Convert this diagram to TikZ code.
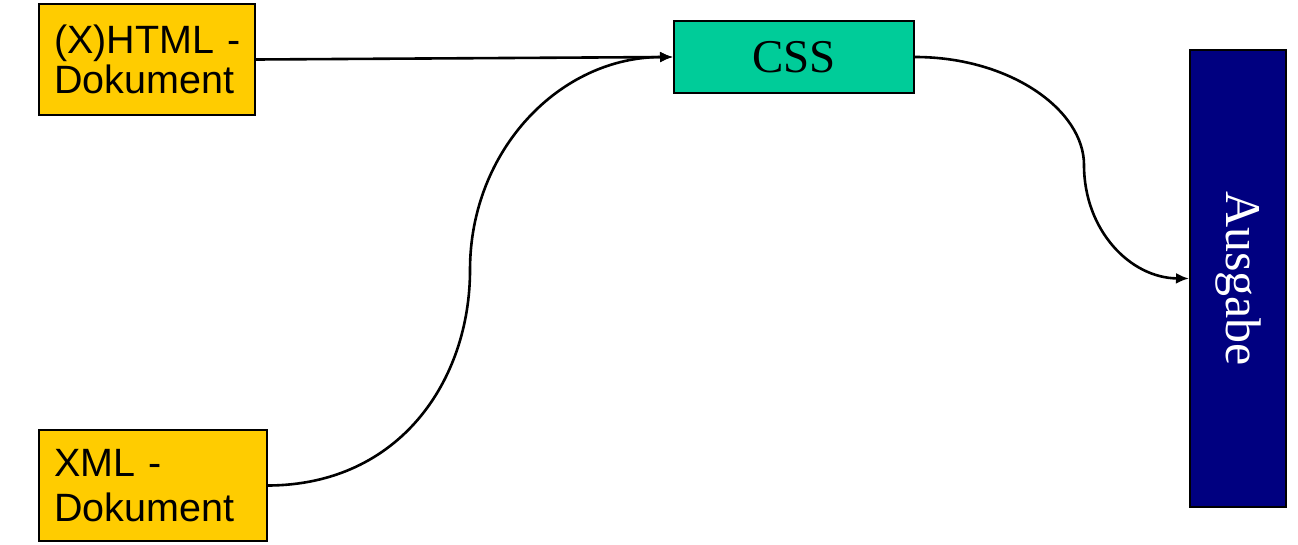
\documentclass[tikz,border=0pt]{standalone}
\usepackage{fontspec}
\setmainfont{Liberation Serif}
\newfontfamily\arialfont{Liberation Sans}
\usetikzlibrary{arrows.meta}
\definecolor{docyellow}{HTML}{FFCC00}
\definecolor{cssgreen}{HTML}{00CC99}
\definecolor{outnavy}{HTML}{000080}
\tikzset{
  docbox/.style={draw=black, line width=2pt, fill=docyellow, align=left,
    inner xsep=15pt, inner ysep=0pt, minimum height=111pt, anchor=north west},
  cssbox/.style={draw=black, line width=2pt, fill=cssgreen, minimum width=240pt,
    minimum height=72pt, inner sep=0pt, font=\fontsize{47}{50}\selectfont},
  outbox/.style={draw=black, line width=2pt, fill=outnavy, minimum width=96pt,
    minimum height=457pt, inner sep=0pt},
  conn/.style={line width=2.6pt, -{Latex[length=13pt,width=11pt]}}
}
\begin{document}
\begin{tikzpicture}[x=1pt,y=-1pt]
\useasboundingbox (0,0) rectangle (1298,544);
\node[docbox, text width=186pt, font=\arialfont\fontsize{39.5}{40}\selectfont] (html) at (38,3) {\mbox{(X)HTML -}\\Dokument};
\node[docbox, text width=198pt, font=\arialfont\fontsize{39.5}{45}\selectfont] (xml) at (38,429) {\mbox{XML -}\\Dokument};
\node[cssbox] (css) at (794,57) {CSS};
\node[outbox] (out) at (1238,278.5) {};
\node[text=white, rotate=-90, font=\fontsize{50}{52}\selectfont, inner sep=0pt] (outtext) at (out.center) {Ausgabe};
\draw[conn] (html.east) -- (css.west);
\draw[conn] (xml.east) .. controls (400,485) and (470,380) .. (470,270)
  .. controls (470,150) and (560,57) .. (css.west);
\draw[conn] (css.east) .. controls (1010,57) and (1084,110) .. (1084,165)
  .. controls (1084,230) and (1130,278) .. (out.west);
\end{tikzpicture}
\end{document}
